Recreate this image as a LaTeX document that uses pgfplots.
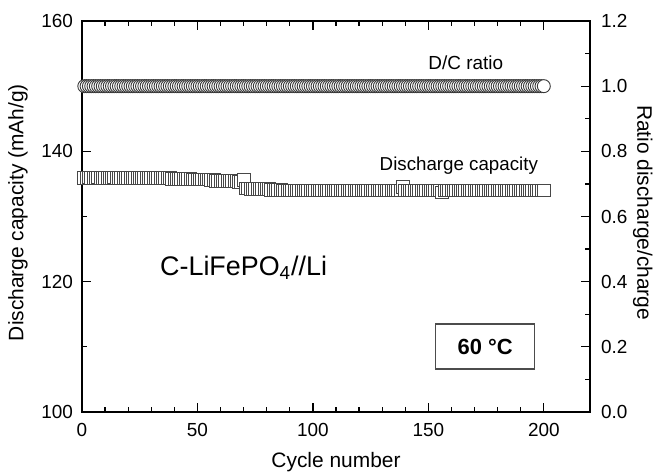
\documentclass[border=0pt]{standalone}
\usepackage{fontspec}
\setmainfont{Liberation Sans}
\usepackage{pgfplots}
\pgfplotsset{compat=1.18}
\begin{document}
\begin{tikzpicture}
\pgfplotsset{
  every axis/.append style={
    scale only axis, width=254bp, height=195.5bp,
    xmin=0, xmax=220,
    tick align=inside,
    major tick length=4.5bp, minor tick length=2.5bp,
    axis line style={line width=0.7bp}, every tick/.style={line width=0.6bp, black},
    tick label style={font=\fontsize{9.5}{11}\selectfont},
    label style={font=\fontsize{10.5}{12}\selectfont},
    /pgf/number format/assume math mode=true,
  }
}
\useasboundingbox (-41bp,-30.5bp) rectangle (287.5bp,206bp);
\begin{axis}[
  at={(0,0)}, anchor=south west,
  ymin=100, ymax=160,
  xtick={0,50,100,150,200}, minor x tick num=4,
  ytick={100,120,140,160}, minor y tick num=1,
  xtick pos=both, ytick pos=left,
  xlabel={Cycle number},
  ylabel={Discharge capacity (mAh/g)},
  xlabel style={at={(axis description cs:0.5,-0.128)}, anchor=center},
  ylabel style={at={(axis description cs:-0.126,0.51)}, anchor=center},
  yticklabel style={xshift=-1bp},
  xticklabel style={yshift=-2bp},
  clip=false,
]
\addplot[only marks, mark=square*, mark size=3.2bp, mark options={draw=black!72, fill=white, line width=0.45bp}] coordinates {
(1,135.9)(2,135.9)(3,136.0)(4,135.9)(5,135.9)(6,135.9)(7,136.0)(8,135.9)(9,135.9)(10,135.9)
(11,135.9)(12,135.9)(13,135.9)(14,136.0)(15,135.9)(16,135.9)(17,135.9)(18,135.9)(19,135.9)(20,135.9)
(21,135.9)(22,135.9)(23,135.9)(24,135.9)(25,135.9)(26,135.9)(27,135.9)(28,135.9)(29,135.9)(30,135.9)
(31,135.9)(32,135.9)(33,135.9)(34,135.9)(35,135.9)(36,135.9)(37,135.9)(38,135.9)(39,135.8)(40,135.8)
(41,135.8)(42,135.8)(43,135.8)(44,135.8)(45,135.8)(46,135.8)(47,135.8)(48,135.7)(49,135.7)(50,135.7)
(51,135.7)(52,135.7)(53,135.7)(54,135.7)(55,135.7)(56,135.6)(57,135.6)(58,135.5)(59,135.5)(60,135.5)
(61,135.5)(62,135.5)(63,135.5)(64,135.4)(65,135.4)(66,135.4)(67,135.4)(68,135.3)(69,135.3)(70,135.6)
(71,134.3)(72,134.3)(73,134.2)(74,134.2)(75,134.2)(76,134.2)(77,134.2)(78,134.2)(79,134.2)(80,134.2)
(81,134.2)(82,134.1)(83,134.1)(84,134.1)(85,134.1)(86,134.1)(87,134.0)(88,134.0)(89,134.0)(90,134.0)
(91,134.0)(92,134.0)(93,134.0)(94,134.0)(95,134.0)(96,134.0)(97,134.0)(98,134.0)(99,134.0)(100,134.0)
(101,134.0)(102,134.0)(103,134.0)(104,134.0)(105,134.0)(106,134.0)(107,134.0)(108,134.0)(109,134.0)(110,134.0)
(111,134.0)(112,134.0)(113,134.0)(114,134.0)(115,134.0)(116,134.0)(117,134.0)(118,134.0)(119,134.0)(120,134.0)
(121,134.0)(122,134.0)(123,134.0)(124,134.0)(125,134.0)(126,134.0)(127,134.0)(128,134.0)(129,134.0)(130,134.0)
(131,134.0)(132,134.0)(133,134.0)(134,134.0)(135,134.0)(136,134.0)(137,134.0)(138,134.0)(139,134.5)(140,134.0)
(141,134.0)(142,134.0)(143,134.0)(144,134.0)(145,134.0)(146,134.0)(147,134.0)(148,134.0)(149,134.0)(150,134.0)
(151,134.0)(152,134.0)(153,134.0)(154,134.0)(155,134.0)(156,133.7)(157,134.0)(158,134.0)(159,134.0)(160,134.0)
(161,134.0)(162,134.0)(163,134.0)(164,134.0)(165,134.0)(166,134.0)(167,134.0)(168,134.0)(169,134.0)(170,134.0)
(171,134.0)(172,134.0)(173,134.0)(174,134.0)(175,134.0)(176,134.0)(177,134.0)(178,134.0)(179,134.0)(180,134.0)
(181,134.0)(182,134.0)(183,134.0)(184,134.0)(185,134.0)(186,134.0)(187,134.0)(188,134.0)(189,134.0)(190,134.0)
(191,134.0)(192,134.0)(193,134.0)(194,134.0)(195,134.0)(196,134.0)(197,134.0)(198,134.0)(199,134.0)(200,134.0)
};
\node[font=\fontsize{9.4}{11}\selectfont] at (axis cs:163.2,137.75) {Discharge capacity};
\node[font=\fontsize{9.5}{11}\selectfont] at (axis cs:166.2,153.6) {D/C ratio};
\node[font=\fontsize{13.5}{15}\selectfont] at (axis cs:70,122.1) {C-LiFePO\textsubscript{4}//Li};
\node[draw=black!70, line width=0.6bp, minimum width=49.5bp, minimum height=22.5bp, font=\bfseries\fontsize{11}{12}\selectfont] at (axis cs:174.6,110.05) {60 °C};
\end{axis}
\begin{axis}[
  at={(0,0)}, anchor=south west,
  ymin=0, ymax=1.2,
  axis x line=none, axis y line*=right,
  ytick={0,0.2,...,1.21}, minor y tick num=1,
  yticklabel style={/pgf/number format/fixed, /pgf/number format/fixed zerofill, /pgf/number format/precision=1, xshift=2bp},
  ylabel={Ratio discharge/charge},
  ylabel style={at={(axis description cs:1.104,0.51)}, anchor=center, rotate=180},
  clip=false,
]
\addplot[only marks, mark=*, mark size=3.25bp, mark options={draw=black!78, fill=white, line width=0.45bp}] coordinates {
(1,1)(2,1)(3,1)(4,1)(5,1)(6,1)(7,1)(8,1)(9,1)(10,1)(11,1)(12,1)(13,1)(14,1)(15,1)(16,1)(17,1)(18,1)(19,1)(20,1)
(21,1)(22,1)(23,1)(24,1)(25,1)(26,1)(27,1)(28,1)(29,1)(30,1)(31,1)(32,1)(33,1)(34,1)(35,1)(36,1)(37,1)(38,1)(39,1)(40,1)
(41,1)(42,1)(43,1)(44,1)(45,1)(46,1)(47,1)(48,1)(49,1)(50,1)(51,1)(52,1)(53,1)(54,1)(55,1)(56,1)(57,1)(58,1)(59,1)(60,1)
(61,1)(62,1)(63,1)(64,1)(65,1)(66,1)(67,1)(68,1)(69,1)(70,1)(71,1)(72,1)(73,1)(74,1)(75,1)(76,1)(77,1)(78,1)(79,1)(80,1)
(81,1)(82,1)(83,1)(84,1)(85,1)(86,1)(87,1)(88,1)(89,1)(90,1)(91,1)(92,1)(93,1)(94,1)(95,1)(96,1)(97,1)(98,1)(99,1)(100,1)
(101,1)(102,1)(103,1)(104,1)(105,1)(106,1)(107,1)(108,1)(109,1)(110,1)(111,1)(112,1)(113,1)(114,1)(115,1)(116,1)(117,1)(118,1)(119,1)(120,1)
(121,1)(122,1)(123,1)(124,1)(125,1)(126,1)(127,1)(128,1)(129,1)(130,1)(131,1)(132,1)(133,1)(134,1)(135,1)(136,1)(137,1)(138,1)(139,1)(140,1)
(141,1)(142,1)(143,1)(144,1)(145,1)(146,1)(147,1)(148,1)(149,1)(150,1)(151,1)(152,1)(153,1)(154,1)(155,1)(156,1)(157,1)(158,1)(159,1)(160,1)
(161,1)(162,1)(163,1)(164,1)(165,1)(166,1)(167,1)(168,1)(169,1)(170,1)(171,1)(172,1)(173,1)(174,1)(175,1)(176,1)(177,1)(178,1)(179,1)(180,1)
(181,1)(182,1)(183,1)(184,1)(185,1)(186,1)(187,1)(188,1)(189,1)(190,1)(191,1)(192,1)(193,1)(194,1)(195,1)(196,1)(197,1)(198,1)(199,1)(200,1)
};
\end{axis}
\end{tikzpicture}
\end{document}
